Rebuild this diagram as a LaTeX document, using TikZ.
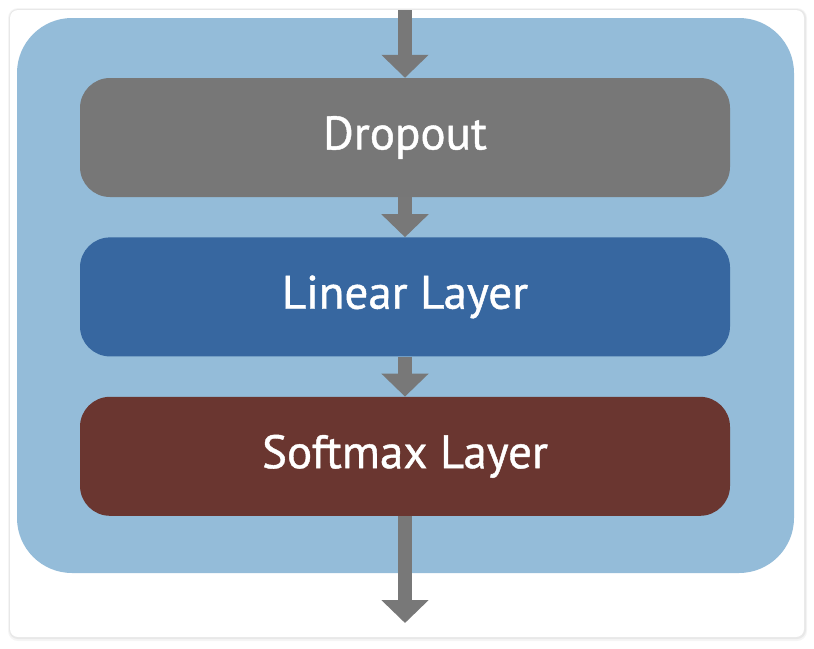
\documentclass[tikz,border=0pt]{standalone}
\usepackage{fontspec}
\setmainfont{PT Sans}
\newfontfamily\layerfont{PT Sans}[FakeBold=0.9]
\usetikzlibrary{positioning,arrows.meta}

\definecolor{panelblue}{HTML}{94BCD9}
\definecolor{dropgray}{HTML}{777777}
\definecolor{linblue}{HTML}{3767A0}
\definecolor{softred}{HTML}{6A3630}
\definecolor{flowgray}{HTML}{787878}

\tikzset{
  layerbox/.style={rounded corners=30pt, minimum width=650pt, minimum height=119pt,
    text=white, font=\layerfont\fontsize{47}{56}\selectfont, inner sep=0pt},
  flow/.style={flowgray, line width=14pt, -{Triangle[width=46pt,length=23pt]}}
}

\begin{document}
\begin{tikzpicture}[x=1pt,y=-1pt]

\useasboundingbox ( 0, 0 ) rectangle ( 814, 648 );

%% Card + shadow
\fill [black!4, rounded corners=10pt] ( 8, 8 ) rectangle ( 807, 641 );
\fill [black!9, rounded corners=9pt] ( 9, 9 ) rectangle ( 806, 639 );
\fill [white, rounded corners=8pt] ( 10, 10 ) rectangle ( 804, 637 );

%% Panel
\fill [panelblue, rounded corners=55pt] ( 17, 18 ) rectangle ( 794, 573 );

%% Layers
\node [layerbox, fill=dropgray] (drop) at ( 405, 137.5 ) {Dropout};
\node [layerbox, fill=linblue, below=40pt of drop] (lin) {Linear Layer};
\node [layerbox, fill=softred, below=40pt of lin] (soft) {Softmax Layer};

%% Flow
\coordinate (in) at ( 405, 10 );
\coordinate (out) at ( 405, 623 );
\draw [flow] (in) -- (drop.north);
\draw [flow] (drop.south) -- (lin.north);
\draw [flow] (lin.south) -- (soft.north);
\draw [flow] (soft.south) -- (out);

\end{tikzpicture}
\end{document}
